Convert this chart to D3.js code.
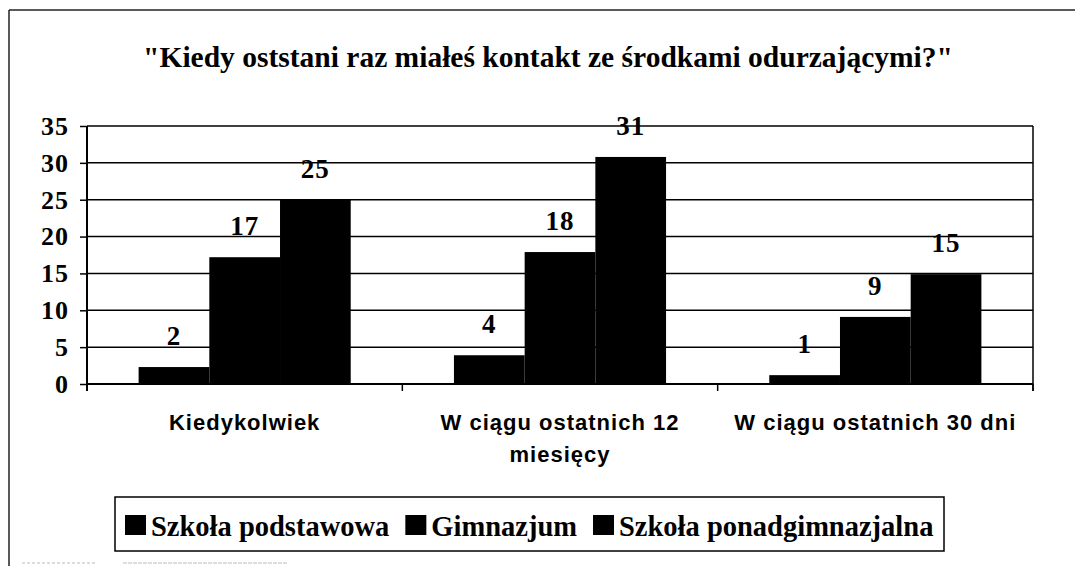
<!DOCTYPE html>
<html>
<head>
<meta charset="utf-8">
<script src="https://cdn.jsdelivr.net/npm/d3@7"></script>
<style>
  html, body { margin: 0; padding: 0; background: #fff; }
  svg { display: block; }
</style>
</head>
<body>
<svg id="chart" width="1075" height="566"></svg>
<script>
// ---- data ----
const title = "\"Kiedy oststani raz miałeś kontakt ze środkami odurzającymi?\"";
const categories = ["Kiedykolwiek", "W ciągu ostatnich 12 miesięcy", "W ciągu ostatnich 30 dni"];
const seriesNames = ["Szkoła podstawowa", "Gimnazjum", "Szkoła ponadgimnazjalna"];
const podstawowa = [2.3, 3.9, 1.2];
const gimnazjum = [17.2, 17.9, 9.1];
const ponadgimnazjalna = [25.0, 30.8, 14.9];
const yTicks = [0, 5, 10, 15, 20, 25, 30, 35];

const seriesValues = [podstawowa, gimnazjum, ponadgimnazjalna];
const rows = [];
categories.forEach((c, ci) => seriesNames.forEach((s, si) => rows.push({cat: c, ser: s, v: seriesValues[si][ci]})));

// ---- layout ----
const svg = d3.select("#chart");
const serif = "'Liberation Serif', 'Times New Roman', serif";
const sans = "'Liberation Sans', Arial, sans-serif";

const x = d3.scaleBand().domain(categories).range([87, 1033]).paddingInner(0).paddingOuter(0);
const xs = d3.scaleBand().domain(seriesNames).range([0, x.bandwidth()]).paddingInner(0).paddingOuter(0.73);
const y = d3.scaleLinear().domain([0, 35]).range([384, 126]);

// outer frame
svg.append("line").attr("x1", 9).attr("x2", 9).attr("y1", 10).attr("y2", 566).attr("stroke", "#222").attr("stroke-width", 1.5);
svg.append("line").attr("x1", 9).attr("x2", 1075).attr("y1", 10).attr("y2", 10).attr("stroke", "#222").attr("stroke-width", 1.5);
svg.append("line").attr("x1", 22).attr("x2", 97).attr("y1", 563).attr("y2", 563).attr("stroke", "#bbb").attr("stroke-width", 1).attr("stroke-dasharray", "3,2");
svg.append("line").attr("x1", 123).attr("x2", 287).attr("y1", 563).attr("y2", 563).attr("stroke", "#bbb").attr("stroke-width", 1).attr("stroke-dasharray", "4,1");

// title
svg.append("text").attr("x", 548).attr("y", 67).attr("text-anchor", "middle")
  .attr("font-family", serif).attr("font-weight", "bold").attr("font-size", 29.5)
  .attr("fill", "#000").text(title);

// gridlines
svg.append("g").selectAll("line").data(yTicks).join("line")
  .attr("x1", 87).attr("x2", 1033)
  .attr("y1", d => y(d)).attr("y2", d => y(d))
  .attr("stroke", "#000").attr("stroke-width", 1.5);

// right border of plot
svg.append("line").attr("x1", 1033).attr("x2", 1033).attr("y1", y(35)).attr("y2", y(0) + 7).attr("stroke", "#000").attr("stroke-width", 1.5);

// y axis
const yAxis = d3.axisLeft(y).tickValues(yTicks).tickSize(7).tickPadding(11).tickSizeOuter(0);
const gy = svg.append("g").attr("transform", "translate(87,0)").call(yAxis);
gy.select(".domain").attr("stroke", "#000").attr("stroke-width", 2).attr("d", `M0,${y(35)}V${y(0) + 7}`);
gy.selectAll(".tick line").attr("stroke", "#000").attr("stroke-width", 1.5);
gy.selectAll(".tick text").attr("font-family", serif).attr("font-weight", "bold").attr("font-size", 26)
  .attr("fill", "#000").attr("letter-spacing", 1);

// x axis ticks at category boundaries
const bounds = categories.map(c => x(c) + x.bandwidth());
svg.append("g").selectAll("line").data(bounds).join("line")
  .attr("x1", d => d).attr("x2", d => d).attr("y1", y(0)).attr("y2", y(0) + 7)
  .attr("stroke", "#000").attr("stroke-width", 1.5);
svg.append("line").attr("x1", 87).attr("x2", 1033).attr("y1", y(0)).attr("y2", y(0)).attr("stroke", "#000").attr("stroke-width", 2);

// bars
svg.append("g").selectAll("rect").data(rows).join("rect")
  .attr("x", d => x(d.cat) + xs(d.ser))
  .attr("width", xs.bandwidth())
  .attr("y", d => y(d.v))
  .attr("height", d => y(0) - y(d.v))
  .attr("fill", "#000");

// data labels
svg.append("g").selectAll("text").data(rows).join("text")
  .attr("x", d => x(d.cat) + xs(d.ser) + xs.bandwidth() / 2)
  .attr("y", d => y(d.v) - 22)
  .attr("text-anchor", "middle")
  .attr("font-family", serif).attr("font-weight", "bold").attr("font-size", 27)
  .attr("letter-spacing", 1)
  .attr("fill", "#000")
  .text(d => Math.round(d.v));

// category labels (wrapped)
const catG = svg.append("g");
categories.forEach(c => {
  const t = catG.append("text").attr("text-anchor", "middle")
    .attr("font-family", sans).attr("font-weight", "bold").attr("font-size", 22)
    .attr("letter-spacing", 1).attr("fill", "#000");
  const words = c.split(" ");
  const lines = [];
  let cur = [];
  const probe = svg.append("text").attr("font-family", sans).attr("font-weight", "bold").attr("font-size", 22).attr("letter-spacing", 1);
  words.forEach(w => {
    const test = cur.concat([w]).join(" ");
    probe.text(test);
    if (probe.node().getComputedTextLength() > x.bandwidth() - 12 && cur.length) {
      lines.push(cur.join(" "));
      cur = [w];
    } else cur.push(w);
  });
  lines.push(cur.join(" "));
  probe.remove();
  lines.forEach((l, i) => {
    t.append("tspan").attr("x", x(c) + x.bandwidth() / 2).attr("y", 430 + i * 32).text(l);
  });
});

// legend
const lg = svg.append("g");
lg.append("rect").attr("x", 115).attr("y", 497).attr("width", 829).attr("height", 54)
  .attr("fill", "#fff").attr("stroke", "#000").attr("stroke-width", 1.5);
let cx = 125;
seriesNames.forEach(s => {
  lg.append("rect").attr("x", cx).attr("y", 515).attr("width", 21).attr("height", 20).attr("fill", "#000");
  const t = lg.append("text").attr("x", cx + 26).attr("y", 536)
    .attr("font-family", serif).attr("font-weight", "bold").attr("font-size", 28.5)
    .attr("fill", "#000").text(s);
  cx = cx + 26 + t.node().getComputedTextLength() + 16;
});
</script>
</body>
</html>
